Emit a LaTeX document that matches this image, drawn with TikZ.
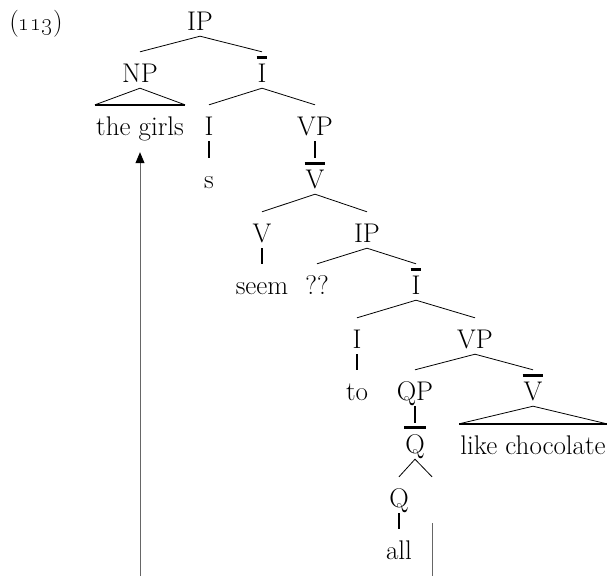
\documentclass[tikz,border=0pt]{standalone}
\usetikzlibrary{arrows.meta}
\newcommand\xbar[1]{\setbox0\hbox{#1}\vbox{\offinterlineskip\hbox to\wd0{\hss\vrule width\dimexpr\wd0+2pt\relax height 3pt depth 0pt\hss}\kern5pt\box0}}
\tikzset{
  tn/.style={anchor=base, inner sep=1pt, text height=29pt, text depth=5pt, font=\fontsize{27}{32}\selectfont},
  br/.style={line width=0.8pt},
  un/.style={line width=2pt},
  tbase/.style={line width=2pt},
  mv/.style={line width=0.8pt, draw=black!60},
}
\begin{document}
\begin{tikzpicture}[x=1pt,y=-1pt]
\useasboundingbox (0,0) rectangle (615,576);
\node[tn] (ex) at (36,30) {(\oldstylenums{113})};
\node[tn] (IP1) at (200,30) {IP};
\node[tn] (NP) at (140,82) {NP};
\node[tn] (Ib1) at (262,82) {\xbar{I}};
\node[tn] (girls) at (140,135) {the girls};
\node[tn] (I1) at (209,135) {I};
\node[tn] (VP1) at (315,135) {VP};
\node[tn] (s) at (209,188) {s};
\node[tn] (Vb1) at (315,188) {\xbar{V}};
\node[tn] (V) at (262,242) {V};
\node[tn] (IP2) at (367,242) {IP};
\node[tn] (seem) at (262,294) {seem};
\node[tn] (qq) at (317,294) {??};
\node[tn] (Ib2) at (416,294) {\xbar{I}};
\node[tn] (I2) at (357,348) {I};
\node[tn] (VP2) at (475,348) {VP};
\node[tn] (to) at (357,400) {to};
\node[tn] (QP) at (415,400) {QP};
\node[tn] (Vb2) at (533,400) {\xbar{V}};
\node[tn] (Qb) at (415,453) {\xbar{Q}};
\node[tn] (lc) at (533,454) {like chocolate};
\node[tn] (Q) at (399,507) {Q};
\node[tn] (tr) at (432,507) {};
\node[tn] (all) at (399,559) {all};
% branches
\draw[br] (NP.north) -- (IP1.south) -- (Ib1.north);
\draw[br] (I1.north) -- (Ib1.south) -- (VP1.north);
\draw[br] (V.north) -- (Vb1.south) -- (IP2.north);
\draw[br] (qq.north) -- (IP2.south) -- (Ib2.north);
\draw[br] (I2.north) -- (Ib2.south) -- (VP2.north);
\draw[br] (QP.north) -- (VP2.south) -- (Vb2.north);
\draw[br] (Q.north) -- (Qb.south) -- (tr.north);
% unary
\draw[un] (I1.south) -- (s.north);
\draw[un] (VP1.south) -- (Vb1.north);
\draw[un] (V.south) -- (seem.north);
\draw[un] (I2.south) -- (to.north);
\draw[un] (QP.south) -- (Qb.north);
\draw[un] (Q.south) -- (all.north);
% triangles
\draw[br] (girls.north west) -- (NP.south) -- (girls.north east);
\draw[tbase] (girls.north west) -- (girls.north east);
\draw[br] (lc.north west) -- (Vb2.south) -- (lc.north east);
\draw[tbase] (lc.north west) -- (lc.north east);
% movement
\coordinate (b1) at (432,576);
\coordinate (b2) at (140,576);
\draw[mv, shorten <=10pt] (tr.south) -- (b1);
\draw[mv, shorten >=11pt, -{Triangle[length=11pt,width=9pt,color=black]}] (b2) -- (girls.south);
\end{tikzpicture}
\end{document}
